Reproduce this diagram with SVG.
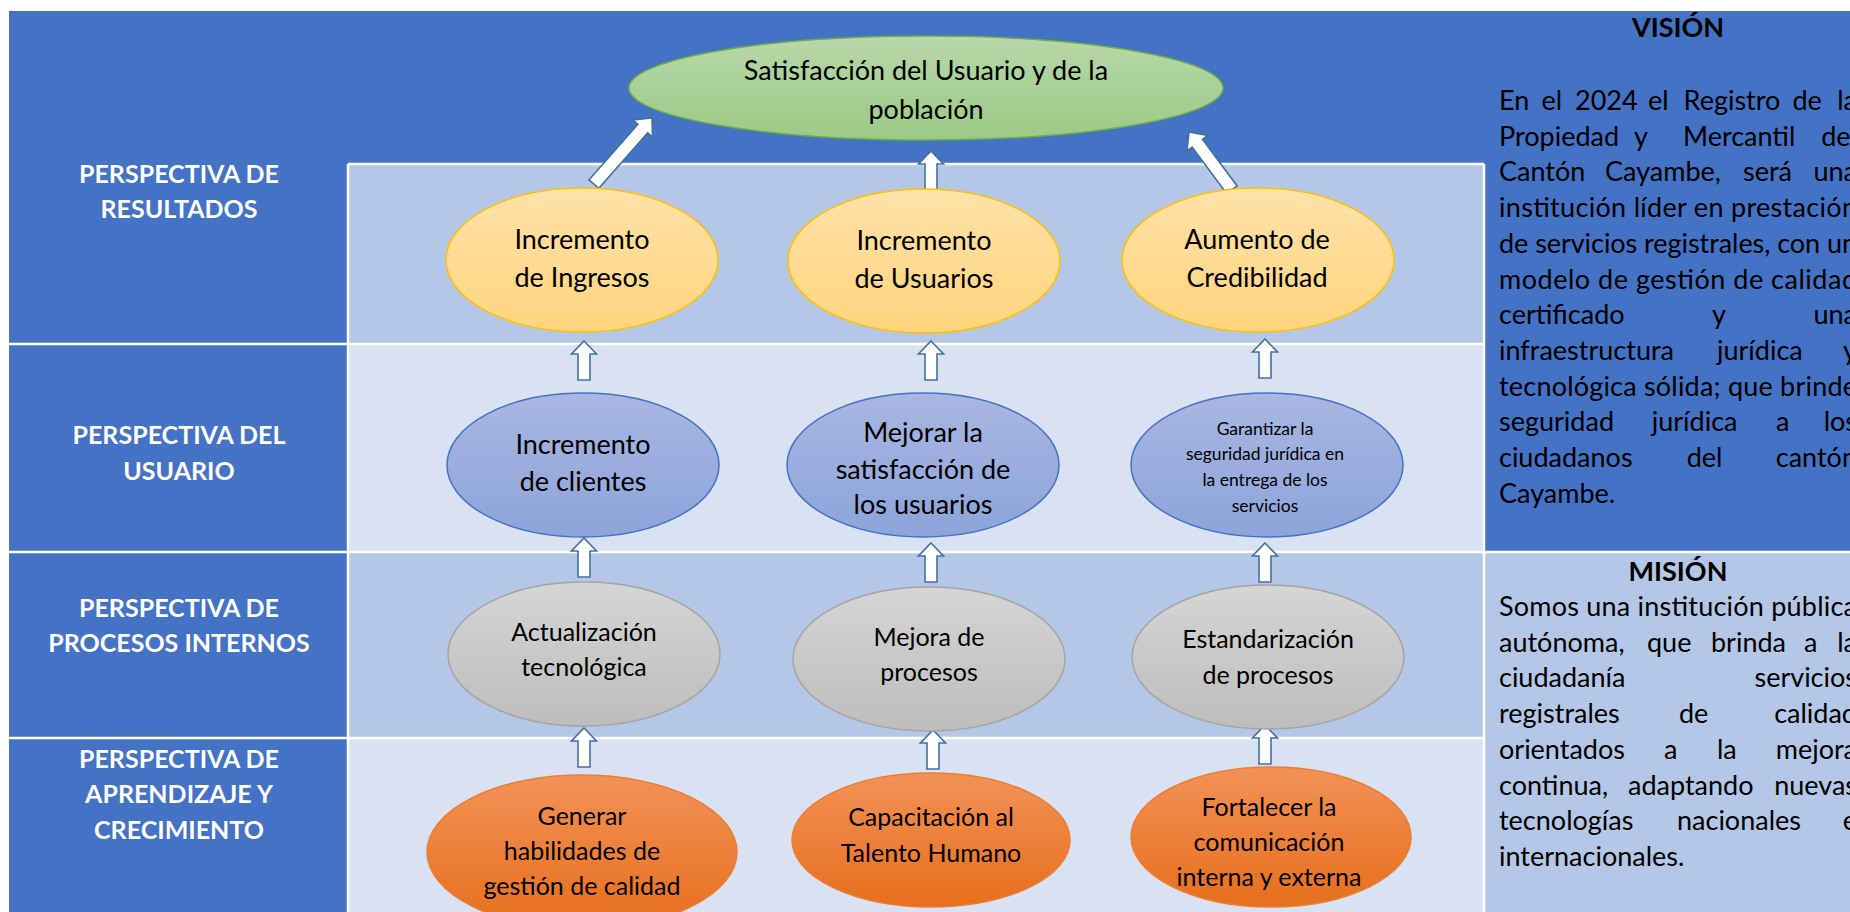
<svg xmlns="http://www.w3.org/2000/svg" xmlns:xlink="http://www.w3.org/1999/xlink" width="1850" height="912" viewBox="0 0 1850 912">
<style>
.bg{fill:#4472C4}
.l1{fill:#B4C7E7}
.l2{fill:#D9E2F3}
.grid{stroke:#FFFFFF;stroke-width:2.5;fill:none}
.arr{fill:#FFFFFF;stroke:#41719C;stroke-width:1.6;stroke-linejoin:miter}
.ey{fill:url(#gy);stroke:#FFC000;stroke-width:1.5}
.eb{fill:url(#gb);stroke:#4472C4;stroke-width:1.5}
.eg{fill:url(#gg);stroke:#A5A5A5;stroke-width:1.5}
.eo{fill:url(#go);stroke:#ED7D31;stroke-width:1.5}
.egr{fill:url(#ggr);stroke:#70AD47;stroke-width:1.5}
text{font-family:Lato,'Liberation Sans',sans-serif;fill:#000}
.lbl{font-weight:700;font-size:25px;fill:#FFFFFF;text-anchor:middle}
.t27{font-size:27px;text-anchor:middle}
.t25{font-size:25px;text-anchor:middle}
.t18{font-size:17.5px;text-anchor:middle}
.para{font-size:27px}
.end{text-anchor:end}
.ttl{font-weight:700;font-size:27px;text-anchor:middle}
</style>
<defs>
<linearGradient id="gy" x1="0" y1="0" x2="0" y2="1"><stop offset="0" stop-color="#FFE2A8"/><stop offset="1" stop-color="#FFD47D"/></linearGradient>
<linearGradient id="gb" x1="0" y1="0" x2="0" y2="1"><stop offset="0" stop-color="#A9B7E1"/><stop offset="1" stop-color="#8CA4DB"/></linearGradient>
<linearGradient id="gg" x1="0" y1="0" x2="0" y2="1"><stop offset="0" stop-color="#D5D5D5"/><stop offset="1" stop-color="#BDBDBD"/></linearGradient>
<linearGradient id="go" x1="0" y1="0" x2="0" y2="1"><stop offset="0" stop-color="#F29257"/><stop offset="1" stop-color="#E76F1C"/></linearGradient>
<linearGradient id="ggr" x1="0" y1="0" x2="0" y2="1"><stop offset="0" stop-color="#B8D8AA"/><stop offset="1" stop-color="#9BCA85"/></linearGradient>
<path id="up" d="M0,0 L12.5,13 L6,13 L6,39 L-6,39 L-6,13 L-12.5,13 Z"/>
</defs>

<g id="table">
<rect class="bg" x="9" y="11" width="1841" height="901"/>
<rect class="l1" x="349" y="165" width="1134" height="178"/>
<rect class="l2" x="349" y="345" width="1134" height="206"/>
<rect class="l1" x="349" y="553" width="1134" height="184"/>
<rect class="l2" x="349" y="739" width="1134" height="173"/>
<rect class="l1" x="1485" y="553" width="365" height="359"/>
<path class="grid" d="M348,164 H1484 M348,164 V912 M1484,164 V912 M9,344 H1484 M9,552 H1850 M9,738 H1484"/>
</g>

<g id="labels">
<text class="lbl" x="179" y="183">PERSPECTIVA DE</text>
<text class="lbl" x="179" y="218">RESULTADOS</text>
<text class="lbl" x="179" y="444">PERSPECTIVA DEL</text>
<text class="lbl" x="179" y="480">USUARIO</text>
<text class="lbl" x="179" y="617">PERSPECTIVA DE</text>
<text class="lbl" x="179" y="652">PROCESOS INTERNOS</text>
<text class="lbl" x="179" y="768">PERSPECTIVA DE</text>
<text class="lbl" x="179" y="803">APRENDIZAJE Y</text>
<text class="lbl" x="179" y="839">CRECIMIENTO</text>
</g>

<g id="connectors">
<use href="#up" class="arr" x="931" y="151"/>
<path class="arr" transform="translate(652,118) rotate(41.3)" d="M0,0 L13,14 L6.5,14 L6.5,88 L-6.5,88 L-6.5,14 L-13,14 Z"/>
<path class="arr" transform="translate(1189,132) rotate(-36.6)" d="M0,0 L13,14 L6.5,14 L6.5,72 L-6.5,72 L-6.5,14 L-13,14 Z"/>
<use href="#up" class="arr" x="584" y="341"/>
<use href="#up" class="arr" x="931" y="341"/>
<use href="#up" class="arr" x="1265" y="339"/>
<use href="#up" class="arr" x="584" y="538"/>
<use href="#up" class="arr" x="931" y="543"/>
<use href="#up" class="arr" x="1265" y="543"/>
<use href="#up" class="arr" x="584" y="728"/>
<use href="#up" class="arr" x="933" y="730"/>
<use href="#up" class="arr" x="1265" y="725"/>
</g>

<g id="n-satisfaccion">
<ellipse class="egr" cx="926" cy="88" rx="297" ry="52"/>
<text class="t27" x="926" y="80">Satisfacción del Usuario y de la</text>
<text class="t27" x="926" y="119">población</text>
</g>

<g id="n-ingresos">
<ellipse class="ey" cx="582" cy="260" rx="136" ry="72"/>
<text class="t27" x="582" y="249">Incremento</text>
<text class="t27" x="582" y="287">de Ingresos</text>
</g>
<g id="n-usuarios">
<ellipse class="ey" cx="924" cy="261" rx="136" ry="72"/>
<text class="t27" x="924" y="250">Incremento</text>
<text class="t27" x="924" y="288">de Usuarios</text>
</g>
<g id="n-credibilidad">
<ellipse class="ey" cx="1258" cy="260" rx="136" ry="72"/>
<text class="t27" x="1257" y="249">Aumento de</text>
<text class="t27" x="1257" y="287">Credibilidad</text>
</g>

<g id="n-clientes">
<ellipse class="eb" cx="583" cy="465" rx="136" ry="72"/>
<text class="t27" x="583" y="454">Incremento</text>
<text class="t27" x="583" y="491">de clientes</text>
</g>
<g id="n-satisf-usuarios">
<ellipse class="eb" cx="923" cy="465" rx="136" ry="72"/>
<text class="t27" x="923" y="442">Mejorar la</text>
<text class="t27" x="923" y="479">satisfacción de</text>
<text class="t27" x="923" y="514">los usuarios</text>
</g>
<g id="n-seguridad">
<ellipse class="eb" cx="1267" cy="465" rx="136" ry="72"/>
<text class="t18" x="1265" y="435">Garantizar la</text>
<text class="t18" x="1265" y="460">seguridad jurídica en</text>
<text class="t18" x="1265" y="486">la entrega de los</text>
<text class="t18" x="1265" y="512">servicios</text>
</g>

<g id="n-actualizacion">
<ellipse class="eg" cx="584" cy="654" rx="136" ry="72"/>
<text class="t25" x="584" y="641">Actualización</text>
<text class="t25" x="584" y="676">tecnológica</text>
</g>
<g id="n-mejora">
<ellipse class="eg" cx="929" cy="659" rx="136" ry="72"/>
<text class="t25" x="929" y="646">Mejora de</text>
<text class="t25" x="929" y="681">procesos</text>
</g>
<g id="n-estandarizacion">
<ellipse class="eg" cx="1268" cy="657" rx="136" ry="72"/>
<text class="t25" x="1268" y="648">Estandarización</text>
<text class="t25" x="1268" y="684">de procesos</text>
</g>

<g id="n-habilidades">
<ellipse class="eo" cx="582" cy="852" rx="155" ry="77"/>
<text class="t25" x="582" y="825">Generar</text>
<text class="t25" x="582" y="860">habilidades de</text>
<text class="t25" x="582" y="895">gestión de calidad</text>
</g>
<g id="n-capacitacion">
<ellipse class="eo" cx="931" cy="840" rx="139" ry="67"/>
<text class="t25" x="931" y="826">Capacitación al</text>
<text class="t25" x="931" y="862">Talento Humano</text>
</g>
<g id="n-comunicacion">
<ellipse class="eo" cx="1271" cy="837" rx="140" ry="70"/>
<text class="t25" x="1269" y="816">Fortalecer la</text>
<text class="t25" x="1269" y="851">comunicación</text>
<text class="t25" x="1269" y="886">interna y externa</text>
</g>

<g id="vision">
<text class="ttl" x="1678" y="37">VISIÓN</text>
<text class="para" y="110"><tspan x="1499">En</tspan><tspan x="1541.6">el</tspan><tspan x="1575">2024</tspan><tspan x="1648">el</tspan><tspan x="1683.6">Registro</tspan><tspan x="1792.5">de</tspan></text>
<text class="para end" x="1857" y="110">la</text>
<text class="para" y="145.7"><tspan x="1499">Propiedad</tspan><tspan x="1634">y</tspan><tspan x="1683">Mercantil</tspan></text>
<text class="para end" x="1857" y="145.7">del</text>
<text class="para" y="181.4"><tspan x="1499">Cantón</tspan><tspan x="1605">Cayambe,</tspan><tspan x="1743">será</tspan></text>
<text class="para end" x="1857" y="181.4">una</text>
<text class="para" x="1499" y="217" textLength="358" lengthAdjust="spacing">institución líder en prestación</text>
<text class="para" x="1499" y="252.8" textLength="358" lengthAdjust="spacing">de servicios registrales, con un</text>
<text class="para" x="1499" y="288.5" textLength="358" lengthAdjust="spacing">modelo de gestión de calidad</text>
<text class="para" y="324"><tspan x="1499">certificado</tspan><tspan x="1712">y</tspan></text>
<text class="para end" x="1857" y="324">una</text>
<text class="para" y="360"><tspan x="1499">infraestructura</tspan><tspan x="1717">jurídica</tspan></text>
<text class="para end" x="1857" y="360">y</text>
<text class="para" x="1499" y="395.6" textLength="358" lengthAdjust="spacing">tecnológica sólida; que brinde</text>
<text class="para" y="431.3"><tspan x="1499">seguridad</tspan><tspan x="1651.7">jurídica</tspan><tspan x="1776">a</tspan></text>
<text class="para end" x="1857" y="431.3">los</text>
<text class="para" y="467"><tspan x="1499">ciudadanos</tspan><tspan x="1686.7">del</tspan></text>
<text class="para end" x="1857" y="467">cantón</text>
<text class="para" x="1499" y="502.7">Cayambe.</text>
</g>

<g id="mision">
<text class="ttl" x="1678" y="581">MISIÓN</text>
<text class="para" x="1499" y="616" textLength="358" lengthAdjust="spacing">Somos una institución pública</text>
<text class="para" y="651.7"><tspan x="1499">autónoma,</tspan><tspan x="1647">que</tspan><tspan x="1711">brinda</tspan><tspan x="1804">a</tspan></text>
<text class="para end" x="1857" y="651.7">la</text>
<text class="para" x="1499" y="687.4">ciudadanía</text>
<text class="para end" x="1857" y="687.4">servicios</text>
<text class="para" y="723.1"><tspan x="1499">registrales</tspan><tspan x="1679">de</tspan></text>
<text class="para end" x="1857" y="723.1">calidad</text>
<text class="para" y="758.8"><tspan x="1499">orientados</tspan><tspan x="1664">a</tspan><tspan x="1717">la</tspan></text>
<text class="para end" x="1857" y="758.8">mejora</text>
<text class="para" y="794.5"><tspan x="1499">continua,</tspan><tspan x="1628">adaptando</tspan></text>
<text class="para end" x="1857" y="794.5">nuevas</text>
<text class="para" y="830.2"><tspan x="1499">tecnologías</tspan><tspan x="1677">nacionales</tspan></text>
<text class="para end" x="1857" y="830.2">e</text>
<text class="para" x="1499" y="865.9">internacionales.</text>
</g>
</svg>
